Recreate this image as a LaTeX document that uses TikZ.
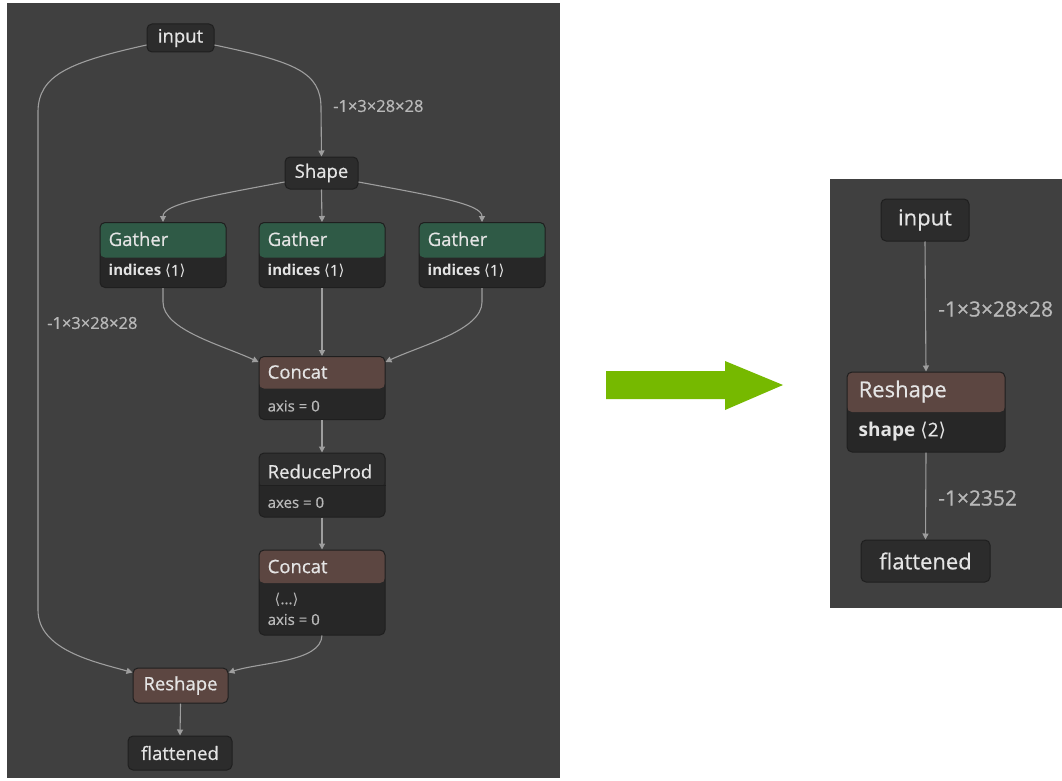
\documentclass[tikz,border=0pt]{standalone}
\usepackage{fontspec}
\setmainfont{Open Sans}[UprightFeatures={FakeBold=0.6}]
\newfontfamily\symfont{DejaVu Sans}
\usetikzlibrary{arrows.meta}

\definecolor{panel}{HTML}{404040}
\definecolor{nodebg}{HTML}{2C2C2C}
\definecolor{nodeline}{HTML}{1F1F1F}
\definecolor{bodybg}{HTML}{272727}
\definecolor{plainhead}{HTML}{2E2E2E}
\definecolor{gathercol}{HTML}{2F5A46}
\definecolor{brown}{HTML}{5C4641}
\definecolor{edgecol}{HTML}{9E9E9E}
\definecolor{txt}{HTML}{E4E4E4}
\definecolor{attr}{HTML}{B8B8B8}
\definecolor{nvgreen}{HTML}{76B900}

\newcommand\la{{\symfont ⟨}}
\newcommand\ra{{\symfont ⟩}}

\begin{document}
\begin{tikzpicture}[x=1pt,y=-1pt,
  box/.style={draw=nodeline, line width=1pt, fill=nodebg, rounded corners=5pt,
    inner sep=0pt, text=txt, font=\fontsize{18.5}{22}\selectfont},
  bigbox/.style={box, font=\fontsize{22}{26}\selectfont},
  opnode/.style n args={2}{box, fill=bodybg, path picture={
    \fill[#1] (path picture bounding box.north west) rectangle
      ([yshift=-#2]path picture bounding box.north east);}},
  title/.style={anchor=west, inner sep=0pt, text=txt, font=\fontsize{18.5}{22}\selectfont},
  bigtitle/.style={title, font=\fontsize{22}{26}\selectfont},
  attrib/.style={anchor=west, inner sep=0pt, text=attr, font=\fontsize{15}{18}\selectfont},
  bigattrib/.style={attrib, font=\fontsize{19}{22}\selectfont},
  shapelbl/.style={anchor=west, inner sep=0pt, text=attr, font=\fontsize{16.5}{19}\selectfont},
  bigshapelbl/.style={shapelbl, font=\fontsize{21}{24}\selectfont},
  edge/.style={draw=edgecol, line width=1.1pt, -{Triangle[length=6pt,width=6pt]}}]

\useasboundingbox (0,0) rectangle (1062,781);

% panels
\fill[panel] (7,3) rectangle (560,778);
\fill[panel] (830,179) rectangle (1062,608);

% ---------- original graph ----------
\node[box, minimum width=67pt, minimum height=28pt] (in) at (180.5,38) {input};
\node[box, minimum width=73pt, minimum height=32pt] (shape) at (321.5,173) {Shape};

\node[opnode={gathercol}{35pt}, minimum width=126pt, minimum height=65pt] (g1) at (163,255) {};
\node[opnode={gathercol}{35pt}, minimum width=126pt, minimum height=65pt] (g2) at (322,255) {};
\node[opnode={gathercol}{35pt}, minimum width=126pt, minimum height=65pt] (g3) at (482,255) {};
\foreach \g in {g1,g2,g3}{
  \node[title] (\g t) at ([xshift=9pt,yshift=-17pt]\g.north west) {Gather};
  \node[attrib, text=txt] (\g a) at ([xshift=9pt,yshift=-49pt]\g.north west)
    {{\bfseries indices} \la1\ra};
}

\node[opnode={brown}{32pt}, minimum width=126pt, minimum height=63pt] (c1) at (322,388) {};
\node[title] (c1t) at ([xshift=9pt,yshift=-16pt]c1.north west) {Concat};
\node[attrib] (c1a) at ([xshift=9pt,yshift=-50pt]c1.north west) {axis = 0};

\node[opnode={plainhead}{33pt}, minimum width=126pt, minimum height=64pt] (rp) at (322,485) {};
\node[title] (rpt) at ([xshift=9pt,yshift=-19pt]rp.north west) {ReduceProd};
\node[attrib] (rpa) at ([xshift=9pt,yshift=-50pt]rp.north west) {axes = 0};
\draw[nodeline, line width=1pt] ([yshift=-33pt]rp.north west) -- ([yshift=-33pt]rp.north east);

\node[opnode={brown}{33pt}, minimum width=126pt, minimum height=85pt] (c2) at (322,592.5) {};
\node[title] (c2t) at ([xshift=9pt,yshift=-17pt]c2.north west) {Concat};
\node[attrib] (c2b) at ([xshift=16pt,yshift=-50pt]c2.north west) {\la...\ra};
\node[attrib] (c2a) at ([xshift=9pt,yshift=-70pt]c2.north west) {axis = 0};

\node[box, fill=brown, minimum width=95pt, minimum height=35pt] (rs) at (180.5,685.5) {Reshape};
\node[box, minimum width=104pt, minimum height=34pt] (fl) at (180,753) {flattened};

% connectors
\draw[edge] ([yshift=-7pt]in.east) .. controls (295,62) and (321,72) .. (321,108) -- (shape.north);
\node[shapelbl] (l1) at (333,106) {-1×3×28×28};
\draw[edge] ([yshift=-7pt]in.west) .. controls (70,62) and (38,75) .. (38,112)
  -- (38,610) .. controls (38,650) and (95,662) .. ([yshift=-5pt]rs.north west);
\node[shapelbl] (l2) at (47,323) {-1×3×28×28};

\draw[edge] ([yshift=-9pt]shape.west) .. controls (210,196) and (163,204) .. (g1.north);
\draw[edge] (shape.south) -- (g2.north);
\draw[edge] ([yshift=-9pt]shape.east) .. controls (434,196) and (482,204) .. (g3.north);

\draw[edge] (g1.south) -- (163,302) .. controls (163,330) and (222,345) .. ([yshift=-6pt]c1.north west);
\draw[edge] (g2.south) -- (c1.north);
\draw[edge] (g3.south) -- (482,302) .. controls (482,330) and (422,345) .. ([yshift=-6pt]c1.north east);

\draw[edge] (c1.south) -- (rp.north);
\draw[edge] (rp.south) -- (c2.north);
\draw[edge] (c2.south) .. controls (321,662) and (262,662) .. ([yshift=-5pt]rs.north east);
\draw[edge] (rs.south) -- (fl.north);

% ---------- transformation arrow ----------
\fill[nvgreen] (606,371) -- (725,371) -- (725,361) -- (783,385) -- (725,410)
  -- (725,399) -- (606,399) -- cycle;

% ---------- simplified graph ----------
\node[bigbox, minimum width=88pt, minimum height=42pt] (in2) at (925,220) {input};
\node[opnode={brown}{40pt}, minimum width=158pt, minimum height=80pt] (rs2) at (926,412) {};
\node[bigtitle] (rs2t) at ([xshift=12pt,yshift=-20pt]rs2.north west) {Reshape};
\node[bigattrib, text=txt] (rs2a) at ([xshift=12pt,yshift=-60pt]rs2.north west)
  {{\bfseries shape} \la2\ra};
\node[bigbox, minimum width=129pt, minimum height=42pt] (fl2) at (925.5,561) {flattened};

\draw[edge] (in2.south) -- (rs2.north);
\node[bigshapelbl] (l3) at (938,309) {-1×3×28×28};
\draw[edge] (rs2.south) -- (fl2.north);
\node[bigshapelbl] (l4) at (938,498) {-1×2352};

\end{tikzpicture}
\end{document}
